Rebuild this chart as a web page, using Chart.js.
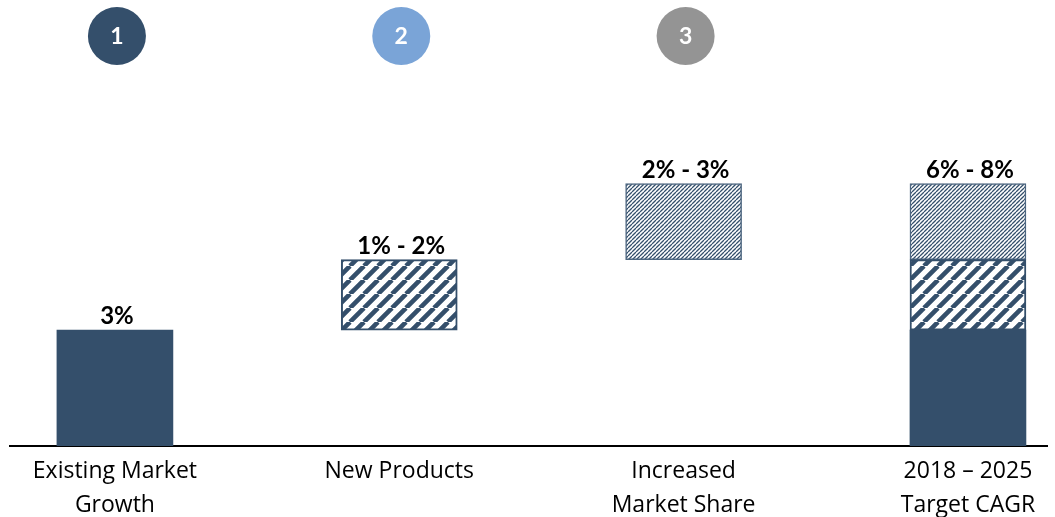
<!DOCTYPE html>
<html>
<head>
<meta charset="utf-8">
<script src="https://cdn.jsdelivr.net/npm/chart.js@4.4.1/dist/chart.umd.min.js"></script>
<style>
  html, body { margin: 0; padding: 0; background: #ffffff; overflow: hidden; }
  #wrap { width: 1055px; height: 525px; position: relative; }
</style>
</head>
<body>
<div id="wrap"><canvas id="c"></canvas></div>
<script>
// ---- data ----
const categories = [["Existing Market", "Growth"], "New Products", ["Increased", "Market Share"], ["2018 – 2025", "Target CAGR"]];
const positions = [0, 1, 2, 3];
const existingGrowth = [[0, 3], null, null, [0, 3]];
const newProducts = [null, [3, 4.83], null, [3, 4.83]];
const marketShare = [null, null, [4.83, 6.8], [4.83, 6.8]];
const valueLabels = ["3%", "1% - 2%", "2% - 3%", "6% - 8%"];
const stepNumbers = ["1", "2", "3"];

// ---- styles ----
const DARK = "#344f6b";
const stepColors = ["#344f6b", "#7aa4d7", "#949494"];
const FONT = "'Open Sans', Lato, sans-serif";
const BFONT = "Lato, 'Open Sans', sans-serif";

function stripePattern(size, lw, color) {
  const c = document.createElement("canvas");
  c.width = size; c.height = size;
  const g = c.getContext("2d");
  g.fillStyle = "#ffffff";
  g.fillRect(0, 0, size, size);
  g.strokeStyle = color;
  g.lineWidth = lw;
  g.beginPath();
  for (const k of [-size, 0, size]) {
    g.moveTo(k, size);
    g.lineTo(k + size, 0);
  }
  g.stroke();
  return document.createElement("canvas").getContext("2d").createPattern(c, "repeat");
}
const widePattern = stripePattern(14, 4.6, DARK);
const finePattern = stripePattern(4, 1.3, DARK);

function toPoints(arr) {
  return positions.map((p, i) => ({ x: p, y: arr[i] })).filter(d => d.y !== null);
}

const valueLabelPlugin = {
  id: "valueLabels",
  afterDatasetsDraw(chart) {
    const ctx = chart.ctx;
    const xs = chart.scales.x, ys = chart.scales.y;
    ctx.save();
    ctx.font = "bold 24px " + BFONT;
    ctx.fillStyle = "#000000";
    ctx.textAlign = "center";
    ctx.textBaseline = "alphabetic";
    positions.forEach((p, i) => {
      let top = 0;
      [existingGrowth, newProducts, marketShare].forEach(a => { if (a[i]) top = Math.max(top, a[i][1]); });
      ctx.fillText(valueLabels[i], xs.getPixelForValue(p) + 2, ys.getPixelForValue(top) - 6);
    });
    ctx.restore();
  }
};

const stepPlugin = {
  id: "steps",
  afterDraw(chart) {
    const ctx = chart.ctx;
    const xs = chart.scales.x;
    ctx.save();
    stepNumbers.forEach((n, i) => {
      const x = xs.getPixelForValue(positions[i]) + 2;
      ctx.beginPath();
      ctx.arc(x, 36, 29, 0, Math.PI * 2);
      ctx.fillStyle = stepColors[i];
      ctx.fill();
      ctx.fillStyle = "#ffffff";
      ctx.font = "bold 23px " + BFONT;
      ctx.textAlign = "center";
      ctx.textBaseline = "middle";
      ctx.fillText(n, x, 37);
    });
    ctx.restore();
  }
};

new Chart(document.getElementById("c"), {
  type: "bar",
  data: {
    datasets: [
      { data: toPoints(existingGrowth), backgroundColor: DARK, borderWidth: 0, grouped: false, barThickness: 116 },
      { data: toPoints(newProducts), backgroundColor: widePattern, borderColor: DARK, borderWidth: 2, borderSkipped: false, grouped: false, barThickness: 116 },
      { data: toPoints(marketShare), backgroundColor: finePattern, borderColor: "#4d6680", borderWidth: 1.5, borderSkipped: false, grouped: false, barThickness: 116 }
    ]
  },
  options: {
    responsive: true,
    maintainAspectRatio: false,
    animation: false,
    layout: { padding: { left: 10, right: 8, top: 60, bottom: -5 } },
    plugins: { legend: { display: false }, tooltip: { enabled: false } },
    scales: {
      x: {
        type: "linear",
        offset: false,
        bounds: "data",
        min: -0.369,
        max: 3.278,
        grid: { display: false, drawTicks: false, offset: false },
        border: { display: true, color: "#000000", width: 2 },
        afterBuildTicks(scale) { scale.ticks = positions.map(v => ({ value: v })); },
        ticks: {
          autoSkip: false,
          maxRotation: 0,
          padding: 8,
          color: "#000000",
          font: { family: FONT, size: 23, lineHeight: "34px" },
          callback: (v, idx) => categories[idx]
        }
      },
      y: {
        display: false,
        min: 0,
        max: 10
      }
    }
  },
  plugins: [valueLabelPlugin, stepPlugin]
});
</script>
</body>
</html>
